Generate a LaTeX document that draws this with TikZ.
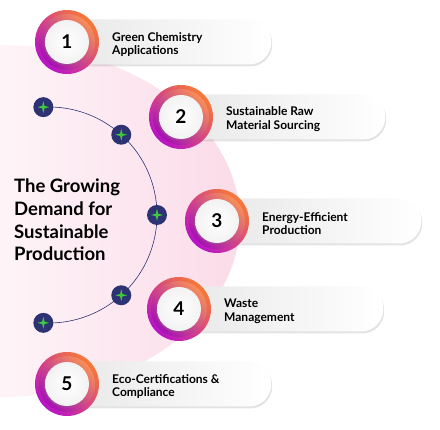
\documentclass[tikz,border=0pt]{standalone}
\usepackage{fontspec}
\setmainfont{Lato}
\usetikzlibrary{shadows,calc}

\definecolor{bgpink}{RGB}{251,219,232}
\definecolor{ringorange}{RGB}{245,122,58}
\definecolor{ringpurple}{RGB}{184,18,200}
\definecolor{dotnavy}{RGB}{45,50,115}
\definecolor{stargreen}{RGB}{62,200,62}

\tikzset{
  pill/.style={rounded corners=22pt, inner sep=0pt, anchor=west,
    minimum width=204pt, minimum height=45pt,
    left color=gray!18, right color=white,
    drop shadow={opacity=0.22, shadow xshift=1pt, shadow yshift=-2pt}},
  ring/.style={circle, inner sep=0pt, minimum size=64pt,
    top color=ringorange, bottom color=ringpurple, shading angle=-45},
  bevel/.style={circle, inner sep=0pt, minimum size=56pt,
    top color=ringorange!85!white, bottom color=ringpurple!90!black, shading angle=-45},
  disc/.style={circle, inner sep=0pt, minimum size=44pt,
    inner color=white, outer color=gray!10,
    drop shadow={opacity=0.3, shadow xshift=-1pt, shadow yshift=-1.5pt},
    font=\bfseries\fontsize{19}{19}\selectfont},
  item/.style={anchor=west, align=left, inner sep=0pt,
    font=\bfseries\fontsize{12}{13.8}\selectfont},
  dot/.style={circle, fill=dotnavy, inner sep=0pt, minimum size=20pt},
}

\begin{document}
\begin{tikzpicture}[x=1pt, y=-1pt]
  \useasboundingbox (0,0) rectangle (440,430);

  % pink backdrop
  \begin{scope}
    \clip (0,221) ellipse [x radius=240, y radius=176];
    \shade[left color=bgpink!30, right color=bgpink] (0,40) rectangle (240,400);
  \end{scope}

  % dots on the arc
  \coordinate (hub) at (49,215);
  \foreach \a [count=\i] in {-93,-48,0,48,93}
    \coordinate (a\i) at ($(hub)+(\a:108)$);
  \draw[dotnavy, semithick] (a1) arc[start angle=-93, end angle=93, radius=108];
  \foreach \i in {1,...,5} {
    \node[dot] (d\i) at (a\i) {};
    \fill[stargreen] (d\i.center) +(0,-6) -- +(1.2,-1.2) -- +(6,0) -- +(1.2,1.2)
      -- +(0,6) -- +(-1.2,1.2) -- +(-6,0) -- +(-1.2,-1.2) -- cycle;
  }

  % title
  \node[anchor=west, align=left, inner sep=0pt,
        font=\bfseries\fontsize{18.5}{22.7}\selectfont] (title) at (14,220)
        {The Growing\\Demand for\\Sustainable\\Production};

  % the five steps
  \foreach \n/\cx/\cy/\txt in {1/67/42/{Green Chemistry\\Applications},
      2/181/117/{Sustainable Raw\\Material Sourcing},
      3/217/221/{Energy-Efficient\\Production},
      4/179/309/{Waste\\Management},
      5/67/384/{Eco-Certifications \&\\Compliance}} {
    \node[pill] (p\n) at (\cx,\cy) {};
    \node[ring] (c\n) at (\cx,\cy) {};
    \node[bevel] (b\n) at (c\n) {};
    \node[disc] (w\n) at (c\n) {\n};
    \node[item] (t\n) at ($(c\n.center)+(45,2.5)$) {\txt};
  }
\end{tikzpicture}
\end{document}
